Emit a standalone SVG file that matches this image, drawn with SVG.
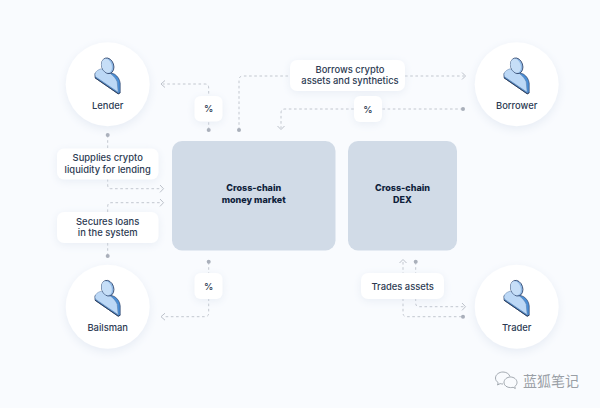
<svg xmlns="http://www.w3.org/2000/svg" xmlns:xlink="http://www.w3.org/1999/xlink" width="600" height="408" viewBox="0 0 600 408">
<style>
text{font-family:"Inter","Liberation Sans",sans-serif;font-size:9.4px;font-weight:500;fill:#2c3a52;text-anchor:middle}
.b{font-size:9px;font-weight:800;fill:#101f3c}
.c{fill:#fff;filter:url(#s)}
.l{fill:#fff;filter:url(#t)}
.m{fill:#d1dbe7}
.k{fill:none;stroke:#c2c7cf;stroke-width:1;stroke-dasharray:2.6 2.6}
.a{fill:none;stroke:#bcc1ca;stroke-width:1}
.d{fill:#a9afba}
.w{font-family:"Noto Sans CJK SC",sans-serif;font-size:14px;font-weight:400;fill:#9a9fa6;text-anchor:start}
</style>
<defs>
<filter id="s" x="-30%" y="-30%" width="160%" height="160%"><feDropShadow dx="0" dy="3" stdDeviation="5" flood-color="#cfd9e8" flood-opacity=".45"/></filter>
<filter id="t" x="-30%" y="-40%" width="160%" height="180%"><feDropShadow dx="0" dy="2" stdDeviation="4" flood-color="#cfd9e8" flood-opacity=".4"/></filter>
<g id="p">
<path d="M-12.700 -11V-6.500L10.500 9.500L12.500 8.500L12.500 -1C12 -5 10 -8 7 -10L2 -12Z" fill="#4a8fd8" stroke="#33466a" stroke-width=".7" stroke-linejoin="round"/>
<path d="M-12.700 -9.500C-12.700 -12.500 -10 -14.500 -6.500 -15.500C-1 -14 7 -9 9.500 -2.500L10.500 8L-12.200 -7.500Z" fill="#bcd8f6" stroke="#5b7aa3" stroke-width=".5" stroke-linejoin="round"/>
<path d="M-12.700 -6.500L10.500 9.500L12.500 8.500" fill="none" stroke="#24344f" stroke-width=".8"/>
<ellipse cx="0" cy="-18.500" rx="6" ry="8" transform="rotate(-18 0 -18.500)" fill="#8fb9e6" stroke="#33466a" stroke-width=".8"/>
<ellipse cx="-1" cy="-18.500" rx="5" ry="7.200" transform="rotate(-18 -1 -18.500)" fill="#c6def7"/>
</g>
</defs>
<rect width="600" height="408" fill="#f9fbfe"/>
<g id="connectors">
<path class="k" d="M208.700 130V88Q208.700 84 205 84H163"/>
<path class="a" d="M165 80.500L161 84L165 87.500"/>
<path class="k" d="M239 130V80Q239 76 243 76H290M405 76H464"/>
<path class="a" d="M462 72.500L465.500 76L462 79.500"/>
<path class="k" d="M463 109H285Q281 109 281 113V128"/>
<path class="a" d="M277.500 126L281 129.500L284.500 126"/>
<path class="k" d="M107.700 135V148M107.700 179V185Q107.700 188.700 111 188.700H162"/>
<path class="a" d="M160 185L163.500 188.700L160 192.400"/>
<path class="k" d="M107.700 256V243M107.700 212V206.500Q107.700 202.700 111 202.700H162"/>
<path class="a" d="M160 199L163.500 202.700L160 206.400"/>
<path class="k" d="M208.700 262V313Q208.700 316.700 205 316.700H163"/>
<path class="a" d="M165 313.200L161 316.700L165 320.200"/>
<path class="k" d="M403 262V313Q403 316.700 407 316.700H463"/>
<path class="a" d="M399.500 263L403 259.500L406.500 263"/>
<path class="k" d="M415.700 262V303Q415.700 306.700 419 306.700H464"/>
<path class="a" d="M462 303L465.500 306.700L462 310.400"/>
<circle class="d" cx="208.700" cy="130" r="2"/>
<circle class="d" cx="239" cy="130" r="2"/>
<circle class="d" cx="463" cy="109" r="2"/>
<circle class="d" cx="107.700" cy="135" r="2"/>
<circle class="d" cx="107.700" cy="256" r="2"/>
<circle class="d" cx="208.700" cy="261.700" r="2"/>
<circle class="d" cx="415.700" cy="261.700" r="2"/>
<circle class="d" cx="463" cy="316.700" r="2"/>
</g>
<g id="lender"><circle class="c" cx="107.700" cy="84.300" r="42"/><use xlink:href="#p" href="#p" x="107.700" y="84.300"/><text x="107.700" y="108.500">Lender</text></g>
<g id="borrower"><circle class="c" cx="516.700" cy="84.300" r="42"/><use xlink:href="#p" href="#p" x="516.700" y="84.300"/><text x="516.700" y="108.500">Borrower</text></g>
<g id="bailsman"><circle class="c" cx="107.700" cy="306.700" r="42"/><use xlink:href="#p" href="#p" x="107.700" y="306.700"/><text x="107.700" y="331">Bailsman</text></g>
<g id="trader"><circle class="c" cx="516.700" cy="306.700" r="42"/><use xlink:href="#p" href="#p" x="516.700" y="306.700"/><text x="516.700" y="331">Trader</text></g>
<g id="money-market"><rect class="m" x="172" y="141" width="163.500" height="109.500" rx="10"/><text class="b" x="253.700" y="191">Cross-chain</text><text class="b" x="253.700" y="203">money market</text></g>
<g id="dex"><rect class="m" x="348" y="141" width="109" height="109.500" rx="10"/><text class="b" x="402.500" y="191">Cross-chain</text><text class="b" x="402.500" y="203">DEX</text></g>
<g id="supplies"><rect class="l" x="57" y="148.500" width="101.500" height="31" rx="7"/><text x="107.700" y="161">Supplies crypto</text><text x="107.700" y="173">liquidity for lending</text></g>
<g id="secures"><rect class="l" x="57" y="212" width="101.500" height="31" rx="7"/><text x="107.700" y="224.500">Secures loans</text><text x="107.700" y="236">in the system</text></g>
<g id="borrows"><rect class="l" x="290" y="60" width="115" height="31" rx="7"/><text x="350" y="72.500">Borrows crypto</text><text x="350" y="84">assets and synthetics</text></g>
<g id="trades"><rect class="l" x="361" y="273" width="83" height="26" rx="7"/><text x="402.700" y="289.500">Trades assets</text></g>
<g id="fee-lender"><rect class="l" x="194.500" y="96" width="28" height="25.500" rx="6"/><text x="208.700" y="112">%</text></g>
<g id="fee-borrower"><rect class="l" x="354" y="96" width="28" height="26" rx="6"/><text x="368" y="112.500">%</text></g>
<g id="fee-bailsman"><rect class="l" x="194.500" y="273" width="28" height="26" rx="6"/><text x="208.700" y="290">%</text></g>
<g id="watermark">
<path d="M503 372c-4 0-7.500 2.700-7.500 6 0 2 1 3.500 2.700 4.700l-.7 2.300 2.700-1.400c1 .3 1.800.4 2.800.4M504 383c-.3-3.500 3-6 6.500-6 3.600 0 6.500 2.500 6.500 5.500 0 1.700-.9 3-2.200 4l.5 2-2.200-1.200c-.8.200-1.600.3-2.600.3-3.500 0-6.300-2-6.500-4.600ZM503 372c3 0 6 1.500 7 4.500" fill="none" stroke="#9aa0a8" stroke-width=".9"/>
<text class="w" x="523" y="386">蓝狐笔记</text>
</g>
</svg>
